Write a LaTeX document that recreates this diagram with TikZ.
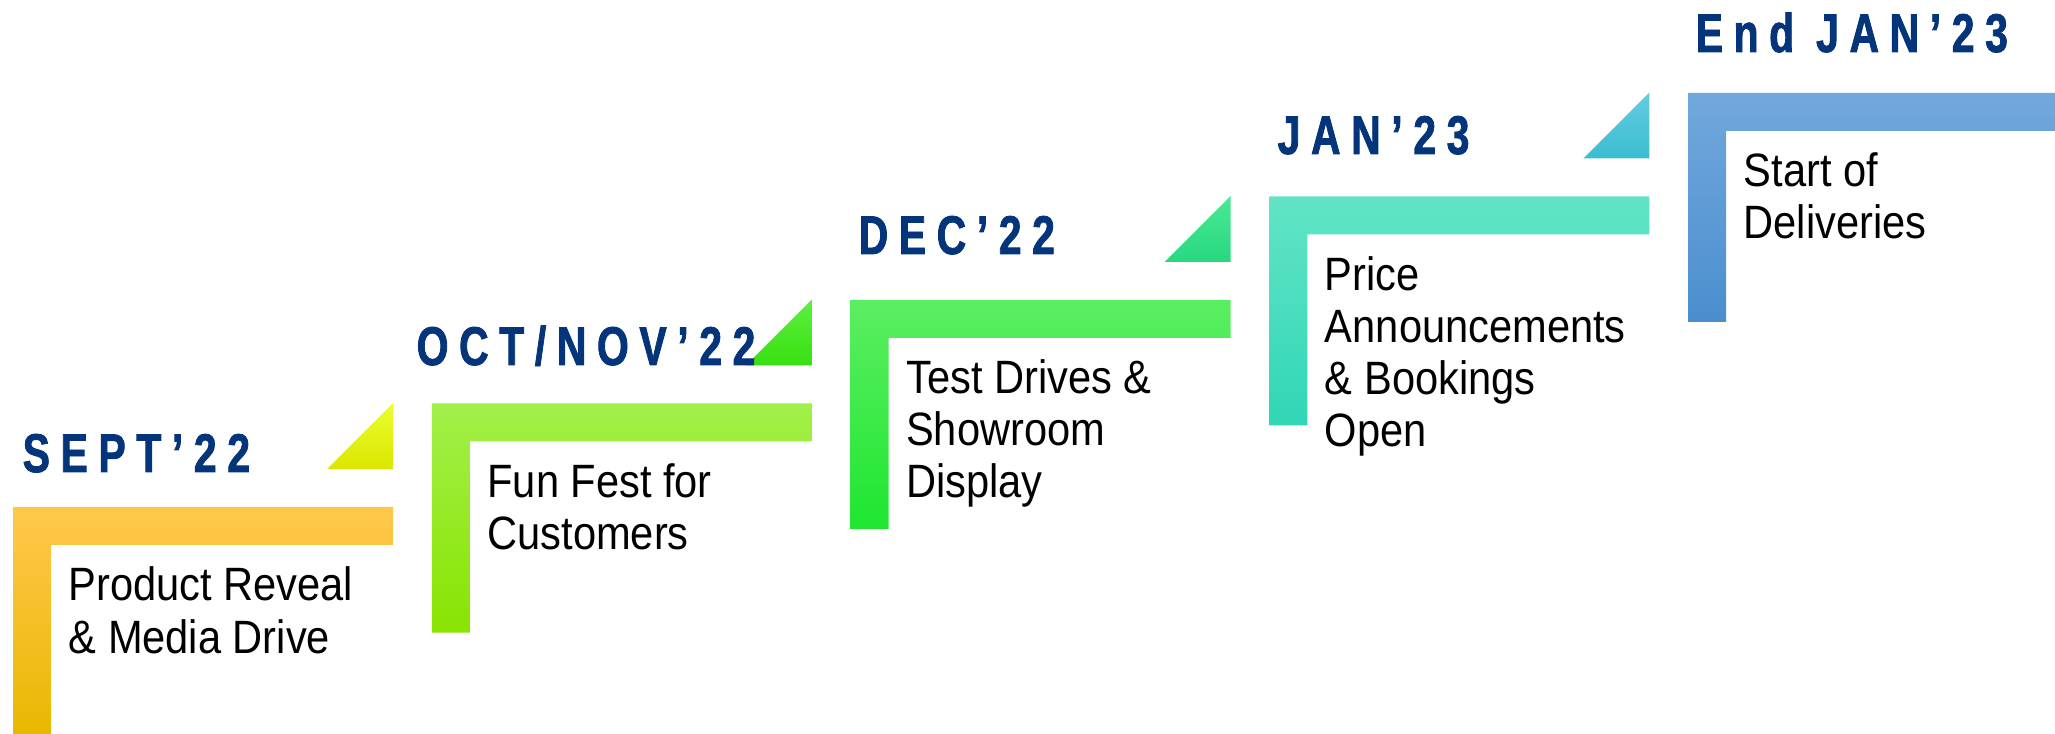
\documentclass[tikz,border=0pt]{standalone}
\usepackage{fontspec}
\setmainfont{Liberation Sans}
\newfontfamily\bodyfont[FakeStretch=0.89]{Liberation Sans}
\newfontfamily\datefont[FakeStretch=0.75,LetterSpace=19.5,
  BoldFeatures={FakeBold=1.5}]{Liberation Sans}
\usepackage{xcolor}
\usepackage{tikz}
\usetikzlibrary{calc}

\definecolor{datecol}{HTML}{043479}
% bar colours (top/bottom)
\definecolor{sa1}{HTML}{FFC84C}\definecolor{sb1}{HTML}{E8B800}
\definecolor{sa2}{HTML}{A2F04A}\definecolor{sb2}{HTML}{88E400}
\definecolor{sa3}{HTML}{5CEE62}\definecolor{sb3}{HTML}{1EE630}
\definecolor{sa4}{HTML}{62E4C6}\definecolor{sb4}{HTML}{30D6B6}
\definecolor{sa5}{HTML}{72A8DC}\definecolor{sb5}{HTML}{4A8ECE}
% triangle colours (top/bottom)
\definecolor{ta1}{HTML}{E8FF30}\definecolor{tb1}{HTML}{DCE600}
\definecolor{ta2}{HTML}{5CF040}\definecolor{tb2}{HTML}{38E010}
\definecolor{ta3}{HTML}{4CE894}\definecolor{tb3}{HTML}{26D880}
\definecolor{ta4}{HTML}{64CCE0}\definecolor{tb4}{HTML}{3CBCD2}

\begin{document}
\begin{tikzpicture}[x=0.01cm,y=-0.01cm,line join=miter,
   date/.style={font=\datefont\bfseries\fontsize{15.5}{18}\selectfont,
     text=datecol,anchor=base west,inner sep=0pt},
   step text/.style={font=\bodyfont\fontsize{13.3}{14.8}\selectfont,
     anchor=base west,align=left,inner sep=0pt}]
\def\dx{418.75} % shift from one step to the next
\def\dy{103.5}
\def\bw{380}    % length of the top bar
\def\bt{38}     % thickness of the bars
\def\bh{229}    % length of the side bar
\def\ts{66}     % size of the small triangle
\def\ls{52}     % line spacing of the step texts
\useasboundingbox (0,0) rectangle (2055,734);
\clip (0,0) rectangle (2055,734);
% the five stairs
\foreach\i in {1,...,5}
{%
  \pgfmathsetmacro\bx{13+(\i-1)*\dx}
  \pgfmathsetmacro\by{507-(\i-1)*\dy}
  \shade[top color=sa\i,bottom color=sb\i]
    (\bx,\by) -- ++(\bw,0) -- ++(0,\bt) -- (\bx+\bt,\by+\bt)
    -- (\bx+\bt,\by+\bh) -- (\bx,\by+\bh) -- cycle;
}
% triangles on the step edges
\foreach\i in {1,...,4}
{%
  \pgfmathsetmacro\bx{13+(\i-1)*\dx+\bw}
  \pgfmathsetmacro\by{507-(\i-1)*\dy-\bt}
  \shade[top color=ta\i,bottom color=tb\i]
    (\bx-\ts,\by) -- (\bx,\by) -- (\bx,\by-\ts) -- cycle;
}
% dates
\foreach\i/\px/\py/\txt in {1/22/472/{SEPT’22},2/416/365/{OCT/NOV’22},
  3/858/254/{DEC’22},4/1277/154/{JAN’23},5/1695/52/{End JAN’23}}
  \node[date] (date\i) at (\px,\py) {\txt};
% what happens (base anchor sits on the last line)
\foreach\i/\n/\txt in {1/2/{Product Reveal\\\& Media Drive},
  2/2/{Fun Fest for\\Customers},3/3/{Test Drives \&\\Showroom\\Display},
  4/4/{Price\\Announcements\\\& Bookings\\Open},5/2/{Start of\\Deliveries}}
{%
  \pgfmathsetmacro\bx{68+(\i-1)*\dx}
  \pgfmathsetmacro\by{601-(\i-1)*\dy+(\n-1)*\ls}
  \node[step text] (act\i) at (\bx,\by) {\txt};
}
\end{tikzpicture}
\end{document}
